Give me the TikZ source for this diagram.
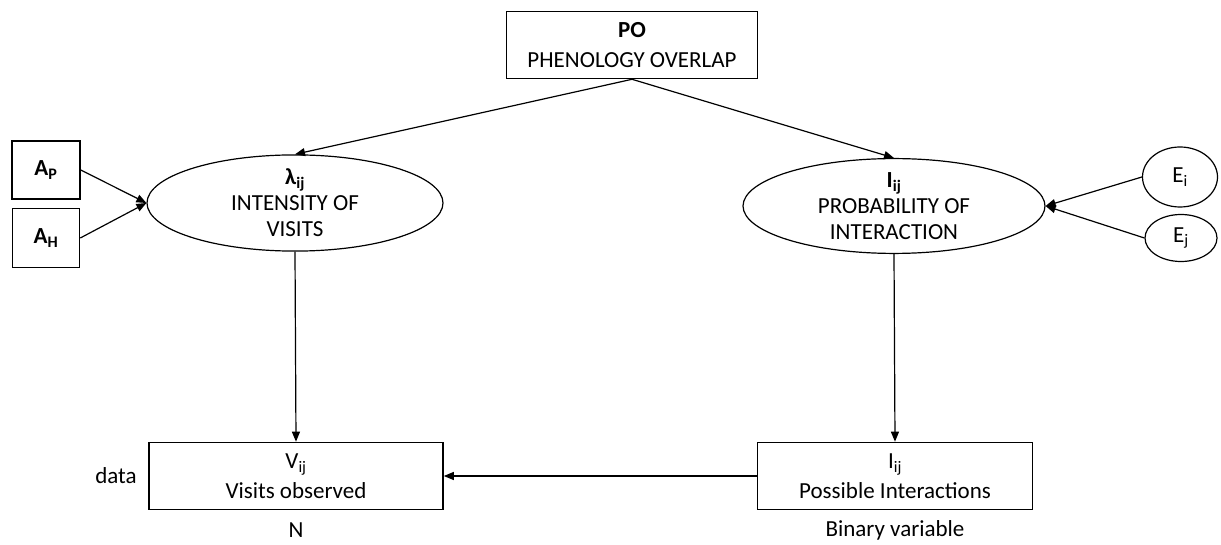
\documentclass[tikz,border=0pt]{standalone}
\usepackage{fontspec}
\setmainfont{Carlito}
\usetikzlibrary{arrows.meta,shapes.geometric}
\begin{document}
\begin{tikzpicture}[x=1pt,y=-1pt,
  txt/.style={font=\fontsize{23}{28}\selectfont},
  box/.style={draw,line width=1.6pt,inner sep=0pt,align=center,txt},
  ell/.style={draw,ellipse,line width=1.2pt,inner sep=0pt,align=center,txt},
  arr/.style={line width=1.2pt,-{Triangle[length=10pt,width=8pt]}}]
\useasboundingbox (0,0) rectangle (1221,545);
\node[box,minimum width=251pt,minimum height=67pt,font=\fontsize{23}{30}\selectfont] (PO) at (632,45) {\textbf{PO}\\PHENOLOGY OVERLAP};
\node[ell,minimum width=296pt,minimum height=87pt,font=\fontsize{23}{26}\selectfont] (lam) at (295,203) {\textbf{λ\textsubscript{ij}}\\INTENSITY OF\\VISITS};
\node[ell,minimum width=302pt,minimum height=88pt,font=\fontsize{23}{26}\selectfont] (Iel) at (894,206) {\textbf{I\textsubscript{ij}}\\PROBABILITY OF\\INTERACTION};
\node[box,minimum width=68pt,minimum height=58pt] (AP) at (46,170) {\textbf{A\textsubscript{P}}};
\node[box,minimum width=67pt,minimum height=59pt] (AH) at (46,238) {\textbf{A\textsubscript{H}}};
\node[ell,minimum width=75pt,minimum height=60pt] (Ei) at (1180,177) {E\textsubscript{i}};
\node[ell,minimum width=72pt,minimum height=47pt] (Ej) at (1181,238) {E\textsubscript{j}};
\node[box,minimum width=294pt,minimum height=67pt,font=\fontsize{23}{30}\selectfont] (V) at (296,476) {V\textsubscript{ij}\\Visits observed};
\node[box,minimum width=275pt,minimum height=67pt,font=\fontsize{23}{30}\selectfont] (I) at (895,476) {I\textsubscript{ij}\\Possible Interactions};
\node[txt] (data) at (116,476) {data};
\node[txt] (N) at (296,530) {N};
\node[txt] (bin) at (895,530) {Binary variable};
\draw[arr] (PO.south) -- (lam.north);
\draw[arr] (PO.south) -- (Iel.north);
\draw[arr] (AP.east) -- (lam.west);
\draw[arr] (AH.east) -- (lam.west);
\draw[arr] (Ei.west) -- (Iel.east);
\draw[arr] (Ej.west) -- (Iel.east);
\draw[arr] (lam.south) -- (V.north);
\draw[arr] (Iel.south) -- (I.north);
\draw[arr] (I.west) -- (V.east);
\end{tikzpicture}
\end{document}
